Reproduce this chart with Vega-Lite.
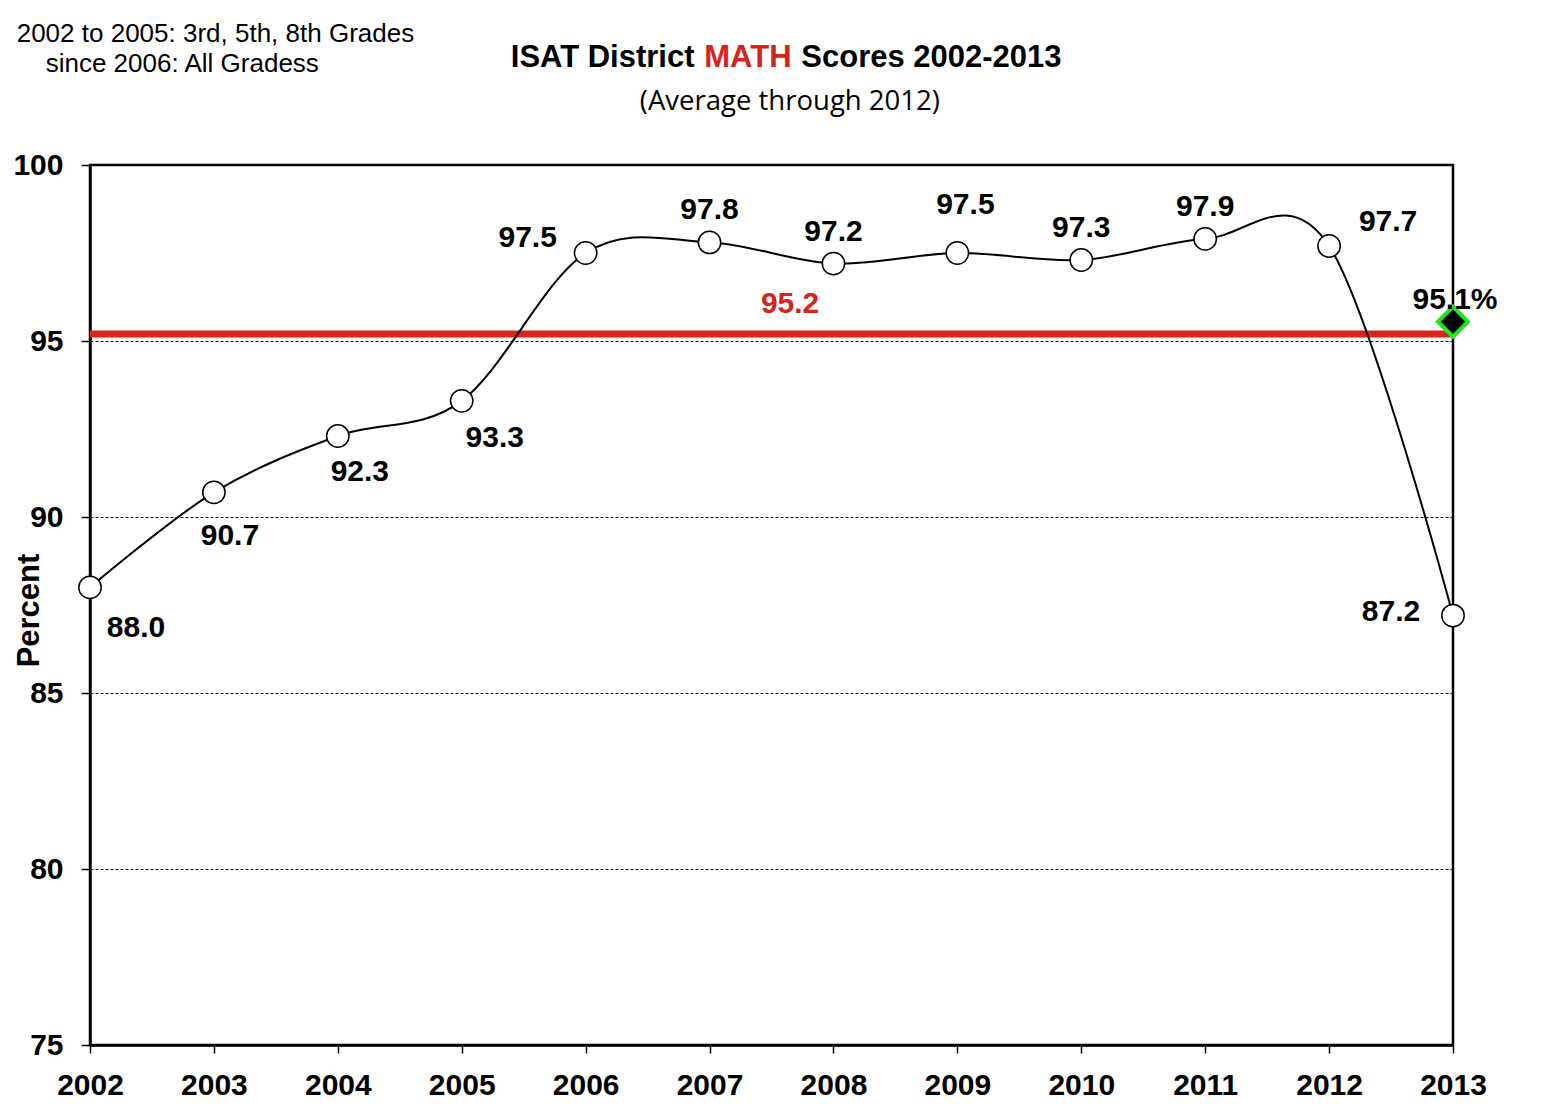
{
  "$schema": "https://vega.github.io/schema/vega-lite/v6.json",
  "width": 1363,
  "height": 880,
  "autosize": {"type": "none"},
  "padding": {"left": 90, "top": 165, "right": 95, "bottom": 70},
  "background": "white",
  "config": {
    "view": {"stroke": "black", "strokeWidth": 2.5},
    "text": {"font": "Liberation Sans"}
  },
  "datasets": {
    "scores": [
      {"year": 2002, "value": 88.0},
      {"year": 2003, "value": 90.7},
      {"year": 2004, "value": 92.3},
      {"year": 2005, "value": 93.3},
      {"year": 2006, "value": 97.5},
      {"year": 2007, "value": 97.8},
      {"year": 2008, "value": 97.2},
      {"year": 2009, "value": 97.5},
      {"year": 2010, "value": 97.3},
      {"year": 2011, "value": 97.9},
      {"year": 2012, "value": 97.7},
      {"year": 2013, "value": 87.2}
    ],
    "average": [{"value": 95.2}],
    "marker": [{"year": 2013, "value": 95.55, "label": "95.1%"}]
  },
  "layer": [
    {
      "data": {"name": "average"},
      "mark": {"type": "rule", "color": "#d8231a", "strokeWidth": 7},
      "encoding": {
        "y": {"field": "value", "type": "quantitative", "scale": {"domain": [75, 100], "nice": false, "zero": false},
          "axis": {"values": [75, 80, 85, 90, 95, 100], "title": "Percent", "grid": true, "gridColor": "black", "gridDash": [3, 2], "gridWidth": 1, "domainColor": "black", "domainWidth": 2.5, "tickColor": "black", "tickSize": 9, "tickWidth": 1.5, "labelFont": "Liberation Sans", "labelFontSize": 30, "labelFontWeight": "bold", "labelColor": "black", "labelPadding": 18, "titleFont": "Liberation Sans", "titleFontSize": 31, "titleFontWeight": "bold", "titleColor": "black", "titleX": -61, "titleY": 445, "titleAngle": 270, "titleAlign": "center", "titleBaseline": "middle"}}
      }
    },
    {
      "data": {"name": "average"},
      "mark": {"type": "text", "color": "#d8231a", "fontSize": 30, "fontWeight": "bold", "dy": -30},
      "encoding": {
        "x": {"datum": 2007.65, "type": "quantitative", "scale": {"domain": [2002, 2013], "nice": false, "zero": false},
          "axis": {"values": [2002, 2003, 2004, 2005, 2006, 2007, 2008, 2009, 2010, 2011, 2012, 2013], "format": "d", "title": null, "grid": false, "domainColor": "black", "domainWidth": 2.5, "tickColor": "black", "tickSize": 8, "tickWidth": 1.5, "labelFont": "Liberation Sans", "labelFontSize": 30, "labelFontWeight": "bold", "labelColor": "black", "labelPadding": 17, "labelFlush": false, "labelOverlap": false}},
        "y": {"field": "value", "type": "quantitative", "scale": {"domain": [75, 100], "nice": false, "zero": false},
          "axis": {"values": [75, 80, 85, 90, 95, 100], "title": "Percent", "grid": true, "gridColor": "black", "gridDash": [3, 2], "gridWidth": 1, "domainColor": "black", "domainWidth": 2.5, "tickColor": "black", "tickSize": 9, "tickWidth": 1.5, "labelFont": "Liberation Sans", "labelFontSize": 30, "labelFontWeight": "bold", "labelColor": "black", "labelPadding": 18, "titleFont": "Liberation Sans", "titleFontSize": 31, "titleFontWeight": "bold", "titleColor": "black", "titleX": -61, "titleY": 445, "titleAngle": 270, "titleAlign": "center", "titleBaseline": "middle"}},
        "text": {"field": "value", "type": "quantitative", "format": ".1f"}
      }
    },
    {
      "data": {"name": "scores"},
      "mark": {"type": "line", "color": "black", "strokeWidth": 2, "interpolate": "cardinal"},
      "encoding": {
        "x": {"field": "year", "type": "quantitative", "scale": {"domain": [2002, 2013], "nice": false, "zero": false},
          "axis": {"values": [2002, 2003, 2004, 2005, 2006, 2007, 2008, 2009, 2010, 2011, 2012, 2013], "format": "d", "title": null, "grid": false, "domainColor": "black", "domainWidth": 2.5, "tickColor": "black", "tickSize": 8, "tickWidth": 1.5, "labelFont": "Liberation Sans", "labelFontSize": 30, "labelFontWeight": "bold", "labelColor": "black", "labelPadding": 17, "labelFlush": false, "labelOverlap": false}},
        "y": {"field": "value", "type": "quantitative", "scale": {"domain": [75, 100], "nice": false, "zero": false},
          "axis": {"values": [75, 80, 85, 90, 95, 100], "title": "Percent", "grid": true, "gridColor": "black", "gridDash": [3, 2], "gridWidth": 1, "domainColor": "black", "domainWidth": 2.5, "tickColor": "black", "tickSize": 9, "tickWidth": 1.5, "labelFont": "Liberation Sans", "labelFontSize": 30, "labelFontWeight": "bold", "labelColor": "black", "labelPadding": 18, "titleFont": "Liberation Sans", "titleFontSize": 31, "titleFontWeight": "bold", "titleColor": "black", "titleX": -61, "titleY": 445, "titleAngle": 270, "titleAlign": "center", "titleBaseline": "middle"}}
      }
    },
    {
      "data": {"name": "scores"},
      "mark": {"type": "point", "shape": "circle", "filled": true, "fill": "white", "stroke": "black", "strokeWidth": 1.5, "size": 500, "opacity": 1},
      "encoding": {
        "x": {"field": "year", "type": "quantitative", "scale": {"domain": [2002, 2013], "nice": false, "zero": false},
          "axis": {"values": [2002, 2003, 2004, 2005, 2006, 2007, 2008, 2009, 2010, 2011, 2012, 2013], "format": "d", "title": null, "grid": false, "domainColor": "black", "domainWidth": 2.5, "tickColor": "black", "tickSize": 8, "tickWidth": 1.5, "labelFont": "Liberation Sans", "labelFontSize": 30, "labelFontWeight": "bold", "labelColor": "black", "labelPadding": 17, "labelFlush": false, "labelOverlap": false}},
        "y": {"field": "value", "type": "quantitative", "scale": {"domain": [75, 100], "nice": false, "zero": false},
          "axis": {"values": [75, 80, 85, 90, 95, 100], "title": "Percent", "grid": true, "gridColor": "black", "gridDash": [3, 2], "gridWidth": 1, "domainColor": "black", "domainWidth": 2.5, "tickColor": "black", "tickSize": 9, "tickWidth": 1.5, "labelFont": "Liberation Sans", "labelFontSize": 30, "labelFontWeight": "bold", "labelColor": "black", "labelPadding": 18, "titleFont": "Liberation Sans", "titleFontSize": 31, "titleFontWeight": "bold", "titleColor": "black", "titleX": -61, "titleY": 445, "titleAngle": 270, "titleAlign": "center", "titleBaseline": "middle"}}
      }
    },
    {
      "data": {"name": "scores"},
      "transform": [{"filter": {"field": "year", "oneOf": [2002]}}],
      "mark": {"type": "text", "fontSize": 30, "fontWeight": "bold", "color": "black", "dx": 46, "dy": 41},
      "encoding": {
        "x": {"field": "year", "type": "quantitative", "scale": {"domain": [2002, 2013], "nice": false, "zero": false},
          "axis": {"values": [2002, 2003, 2004, 2005, 2006, 2007, 2008, 2009, 2010, 2011, 2012, 2013], "format": "d", "title": null, "grid": false, "domainColor": "black", "domainWidth": 2.5, "tickColor": "black", "tickSize": 8, "tickWidth": 1.5, "labelFont": "Liberation Sans", "labelFontSize": 30, "labelFontWeight": "bold", "labelColor": "black", "labelPadding": 17, "labelFlush": false, "labelOverlap": false}},
        "y": {"field": "value", "type": "quantitative", "scale": {"domain": [75, 100], "nice": false, "zero": false},
          "axis": {"values": [75, 80, 85, 90, 95, 100], "title": "Percent", "grid": true, "gridColor": "black", "gridDash": [3, 2], "gridWidth": 1, "domainColor": "black", "domainWidth": 2.5, "tickColor": "black", "tickSize": 9, "tickWidth": 1.5, "labelFont": "Liberation Sans", "labelFontSize": 30, "labelFontWeight": "bold", "labelColor": "black", "labelPadding": 18, "titleFont": "Liberation Sans", "titleFontSize": 31, "titleFontWeight": "bold", "titleColor": "black", "titleX": -61, "titleY": 445, "titleAngle": 270, "titleAlign": "center", "titleBaseline": "middle"}},
        "text": {"field": "value", "type": "quantitative", "format": ".1f"}
      }
    },
    {
      "data": {"name": "scores"},
      "transform": [{"filter": {"field": "year", "oneOf": [2003]}}],
      "mark": {"type": "text", "fontSize": 30, "fontWeight": "bold", "color": "black", "dx": 16, "dy": 44},
      "encoding": {
        "x": {"field": "year", "type": "quantitative", "scale": {"domain": [2002, 2013], "nice": false, "zero": false},
          "axis": {"values": [2002, 2003, 2004, 2005, 2006, 2007, 2008, 2009, 2010, 2011, 2012, 2013], "format": "d", "title": null, "grid": false, "domainColor": "black", "domainWidth": 2.5, "tickColor": "black", "tickSize": 8, "tickWidth": 1.5, "labelFont": "Liberation Sans", "labelFontSize": 30, "labelFontWeight": "bold", "labelColor": "black", "labelPadding": 17, "labelFlush": false, "labelOverlap": false}},
        "y": {"field": "value", "type": "quantitative", "scale": {"domain": [75, 100], "nice": false, "zero": false},
          "axis": {"values": [75, 80, 85, 90, 95, 100], "title": "Percent", "grid": true, "gridColor": "black", "gridDash": [3, 2], "gridWidth": 1, "domainColor": "black", "domainWidth": 2.5, "tickColor": "black", "tickSize": 9, "tickWidth": 1.5, "labelFont": "Liberation Sans", "labelFontSize": 30, "labelFontWeight": "bold", "labelColor": "black", "labelPadding": 18, "titleFont": "Liberation Sans", "titleFontSize": 31, "titleFontWeight": "bold", "titleColor": "black", "titleX": -61, "titleY": 445, "titleAngle": 270, "titleAlign": "center", "titleBaseline": "middle"}},
        "text": {"field": "value", "type": "quantitative", "format": ".1f"}
      }
    },
    {
      "data": {"name": "scores"},
      "transform": [{"filter": {"field": "year", "oneOf": [2004]}}],
      "mark": {"type": "text", "fontSize": 30, "fontWeight": "bold", "color": "black", "dx": 22, "dy": 36},
      "encoding": {
        "x": {"field": "year", "type": "quantitative", "scale": {"domain": [2002, 2013], "nice": false, "zero": false},
          "axis": {"values": [2002, 2003, 2004, 2005, 2006, 2007, 2008, 2009, 2010, 2011, 2012, 2013], "format": "d", "title": null, "grid": false, "domainColor": "black", "domainWidth": 2.5, "tickColor": "black", "tickSize": 8, "tickWidth": 1.5, "labelFont": "Liberation Sans", "labelFontSize": 30, "labelFontWeight": "bold", "labelColor": "black", "labelPadding": 17, "labelFlush": false, "labelOverlap": false}},
        "y": {"field": "value", "type": "quantitative", "scale": {"domain": [75, 100], "nice": false, "zero": false},
          "axis": {"values": [75, 80, 85, 90, 95, 100], "title": "Percent", "grid": true, "gridColor": "black", "gridDash": [3, 2], "gridWidth": 1, "domainColor": "black", "domainWidth": 2.5, "tickColor": "black", "tickSize": 9, "tickWidth": 1.5, "labelFont": "Liberation Sans", "labelFontSize": 30, "labelFontWeight": "bold", "labelColor": "black", "labelPadding": 18, "titleFont": "Liberation Sans", "titleFontSize": 31, "titleFontWeight": "bold", "titleColor": "black", "titleX": -61, "titleY": 445, "titleAngle": 270, "titleAlign": "center", "titleBaseline": "middle"}},
        "text": {"field": "value", "type": "quantitative", "format": ".1f"}
      }
    },
    {
      "data": {"name": "scores"},
      "transform": [{"filter": {"field": "year", "oneOf": [2005]}}],
      "mark": {"type": "text", "fontSize": 30, "fontWeight": "bold", "color": "black", "dx": 33, "dy": 37},
      "encoding": {
        "x": {"field": "year", "type": "quantitative", "scale": {"domain": [2002, 2013], "nice": false, "zero": false},
          "axis": {"values": [2002, 2003, 2004, 2005, 2006, 2007, 2008, 2009, 2010, 2011, 2012, 2013], "format": "d", "title": null, "grid": false, "domainColor": "black", "domainWidth": 2.5, "tickColor": "black", "tickSize": 8, "tickWidth": 1.5, "labelFont": "Liberation Sans", "labelFontSize": 30, "labelFontWeight": "bold", "labelColor": "black", "labelPadding": 17, "labelFlush": false, "labelOverlap": false}},
        "y": {"field": "value", "type": "quantitative", "scale": {"domain": [75, 100], "nice": false, "zero": false},
          "axis": {"values": [75, 80, 85, 90, 95, 100], "title": "Percent", "grid": true, "gridColor": "black", "gridDash": [3, 2], "gridWidth": 1, "domainColor": "black", "domainWidth": 2.5, "tickColor": "black", "tickSize": 9, "tickWidth": 1.5, "labelFont": "Liberation Sans", "labelFontSize": 30, "labelFontWeight": "bold", "labelColor": "black", "labelPadding": 18, "titleFont": "Liberation Sans", "titleFontSize": 31, "titleFontWeight": "bold", "titleColor": "black", "titleX": -61, "titleY": 445, "titleAngle": 270, "titleAlign": "center", "titleBaseline": "middle"}},
        "text": {"field": "value", "type": "quantitative", "format": ".1f"}
      }
    },
    {
      "data": {"name": "scores"},
      "transform": [{"filter": {"field": "year", "oneOf": [2006]}}],
      "mark": {"type": "text", "fontSize": 30, "fontWeight": "bold", "color": "black", "dx": -58, "dy": -15},
      "encoding": {
        "x": {"field": "year", "type": "quantitative", "scale": {"domain": [2002, 2013], "nice": false, "zero": false},
          "axis": {"values": [2002, 2003, 2004, 2005, 2006, 2007, 2008, 2009, 2010, 2011, 2012, 2013], "format": "d", "title": null, "grid": false, "domainColor": "black", "domainWidth": 2.5, "tickColor": "black", "tickSize": 8, "tickWidth": 1.5, "labelFont": "Liberation Sans", "labelFontSize": 30, "labelFontWeight": "bold", "labelColor": "black", "labelPadding": 17, "labelFlush": false, "labelOverlap": false}},
        "y": {"field": "value", "type": "quantitative", "scale": {"domain": [75, 100], "nice": false, "zero": false},
          "axis": {"values": [75, 80, 85, 90, 95, 100], "title": "Percent", "grid": true, "gridColor": "black", "gridDash": [3, 2], "gridWidth": 1, "domainColor": "black", "domainWidth": 2.5, "tickColor": "black", "tickSize": 9, "tickWidth": 1.5, "labelFont": "Liberation Sans", "labelFontSize": 30, "labelFontWeight": "bold", "labelColor": "black", "labelPadding": 18, "titleFont": "Liberation Sans", "titleFontSize": 31, "titleFontWeight": "bold", "titleColor": "black", "titleX": -61, "titleY": 445, "titleAngle": 270, "titleAlign": "center", "titleBaseline": "middle"}},
        "text": {"field": "value", "type": "quantitative", "format": ".1f"}
      }
    },
    {
      "data": {"name": "scores"},
      "transform": [{"filter": {"field": "year", "oneOf": [2007, 2008, 2010, 2011]}}],
      "mark": {"type": "text", "fontSize": 30, "fontWeight": "bold", "color": "black", "dx": 0, "dy": -32},
      "encoding": {
        "x": {"field": "year", "type": "quantitative", "scale": {"domain": [2002, 2013], "nice": false, "zero": false},
          "axis": {"values": [2002, 2003, 2004, 2005, 2006, 2007, 2008, 2009, 2010, 2011, 2012, 2013], "format": "d", "title": null, "grid": false, "domainColor": "black", "domainWidth": 2.5, "tickColor": "black", "tickSize": 8, "tickWidth": 1.5, "labelFont": "Liberation Sans", "labelFontSize": 30, "labelFontWeight": "bold", "labelColor": "black", "labelPadding": 17, "labelFlush": false, "labelOverlap": false}},
        "y": {"field": "value", "type": "quantitative", "scale": {"domain": [75, 100], "nice": false, "zero": false},
          "axis": {"values": [75, 80, 85, 90, 95, 100], "title": "Percent", "grid": true, "gridColor": "black", "gridDash": [3, 2], "gridWidth": 1, "domainColor": "black", "domainWidth": 2.5, "tickColor": "black", "tickSize": 9, "tickWidth": 1.5, "labelFont": "Liberation Sans", "labelFontSize": 30, "labelFontWeight": "bold", "labelColor": "black", "labelPadding": 18, "titleFont": "Liberation Sans", "titleFontSize": 31, "titleFontWeight": "bold", "titleColor": "black", "titleX": -61, "titleY": 445, "titleAngle": 270, "titleAlign": "center", "titleBaseline": "middle"}},
        "text": {"field": "value", "type": "quantitative", "format": ".1f"}
      }
    },
    {
      "data": {"name": "scores"},
      "transform": [{"filter": {"field": "year", "oneOf": [2009]}}],
      "mark": {"type": "text", "fontSize": 30, "fontWeight": "bold", "color": "black", "dx": 8, "dy": -48},
      "encoding": {
        "x": {"field": "year", "type": "quantitative", "scale": {"domain": [2002, 2013], "nice": false, "zero": false},
          "axis": {"values": [2002, 2003, 2004, 2005, 2006, 2007, 2008, 2009, 2010, 2011, 2012, 2013], "format": "d", "title": null, "grid": false, "domainColor": "black", "domainWidth": 2.5, "tickColor": "black", "tickSize": 8, "tickWidth": 1.5, "labelFont": "Liberation Sans", "labelFontSize": 30, "labelFontWeight": "bold", "labelColor": "black", "labelPadding": 17, "labelFlush": false, "labelOverlap": false}},
        "y": {"field": "value", "type": "quantitative", "scale": {"domain": [75, 100], "nice": false, "zero": false},
          "axis": {"values": [75, 80, 85, 90, 95, 100], "title": "Percent", "grid": true, "gridColor": "black", "gridDash": [3, 2], "gridWidth": 1, "domainColor": "black", "domainWidth": 2.5, "tickColor": "black", "tickSize": 9, "tickWidth": 1.5, "labelFont": "Liberation Sans", "labelFontSize": 30, "labelFontWeight": "bold", "labelColor": "black", "labelPadding": 18, "titleFont": "Liberation Sans", "titleFontSize": 31, "titleFontWeight": "bold", "titleColor": "black", "titleX": -61, "titleY": 445, "titleAngle": 270, "titleAlign": "center", "titleBaseline": "middle"}},
        "text": {"field": "value", "type": "quantitative", "format": ".1f"}
      }
    },
    {
      "data": {"name": "scores"},
      "transform": [{"filter": {"field": "year", "oneOf": [2012]}}],
      "mark": {"type": "text", "fontSize": 30, "fontWeight": "bold", "color": "black", "dx": 59, "dy": -24},
      "encoding": {
        "x": {"field": "year", "type": "quantitative", "scale": {"domain": [2002, 2013], "nice": false, "zero": false},
          "axis": {"values": [2002, 2003, 2004, 2005, 2006, 2007, 2008, 2009, 2010, 2011, 2012, 2013], "format": "d", "title": null, "grid": false, "domainColor": "black", "domainWidth": 2.5, "tickColor": "black", "tickSize": 8, "tickWidth": 1.5, "labelFont": "Liberation Sans", "labelFontSize": 30, "labelFontWeight": "bold", "labelColor": "black", "labelPadding": 17, "labelFlush": false, "labelOverlap": false}},
        "y": {"field": "value", "type": "quantitative", "scale": {"domain": [75, 100], "nice": false, "zero": false},
          "axis": {"values": [75, 80, 85, 90, 95, 100], "title": "Percent", "grid": true, "gridColor": "black", "gridDash": [3, 2], "gridWidth": 1, "domainColor": "black", "domainWidth": 2.5, "tickColor": "black", "tickSize": 9, "tickWidth": 1.5, "labelFont": "Liberation Sans", "labelFontSize": 30, "labelFontWeight": "bold", "labelColor": "black", "labelPadding": 18, "titleFont": "Liberation Sans", "titleFontSize": 31, "titleFontWeight": "bold", "titleColor": "black", "titleX": -61, "titleY": 445, "titleAngle": 270, "titleAlign": "center", "titleBaseline": "middle"}},
        "text": {"field": "value", "type": "quantitative", "format": ".1f"}
      }
    },
    {
      "data": {"name": "scores"},
      "transform": [{"filter": {"field": "year", "oneOf": [2013]}}],
      "mark": {"type": "text", "fontSize": 30, "fontWeight": "bold", "color": "black", "dx": -62, "dy": -4},
      "encoding": {
        "x": {"field": "year", "type": "quantitative", "scale": {"domain": [2002, 2013], "nice": false, "zero": false},
          "axis": {"values": [2002, 2003, 2004, 2005, 2006, 2007, 2008, 2009, 2010, 2011, 2012, 2013], "format": "d", "title": null, "grid": false, "domainColor": "black", "domainWidth": 2.5, "tickColor": "black", "tickSize": 8, "tickWidth": 1.5, "labelFont": "Liberation Sans", "labelFontSize": 30, "labelFontWeight": "bold", "labelColor": "black", "labelPadding": 17, "labelFlush": false, "labelOverlap": false}},
        "y": {"field": "value", "type": "quantitative", "scale": {"domain": [75, 100], "nice": false, "zero": false},
          "axis": {"values": [75, 80, 85, 90, 95, 100], "title": "Percent", "grid": true, "gridColor": "black", "gridDash": [3, 2], "gridWidth": 1, "domainColor": "black", "domainWidth": 2.5, "tickColor": "black", "tickSize": 9, "tickWidth": 1.5, "labelFont": "Liberation Sans", "labelFontSize": 30, "labelFontWeight": "bold", "labelColor": "black", "labelPadding": 18, "titleFont": "Liberation Sans", "titleFontSize": 31, "titleFontWeight": "bold", "titleColor": "black", "titleX": -61, "titleY": 445, "titleAngle": 270, "titleAlign": "center", "titleBaseline": "middle"}},
        "text": {"field": "value", "type": "quantitative", "format": ".1f"}
      }
    },
    {
      "data": {"name": "marker"},
      "mark": {"type": "point", "shape": "diamond", "filled": true, "fill": "black", "stroke": "#1ee61e", "strokeWidth": 4, "size": 900, "opacity": 1},
      "encoding": {
        "x": {"field": "year", "type": "quantitative", "scale": {"domain": [2002, 2013], "nice": false, "zero": false},
          "axis": {"values": [2002, 2003, 2004, 2005, 2006, 2007, 2008, 2009, 2010, 2011, 2012, 2013], "format": "d", "title": null, "grid": false, "domainColor": "black", "domainWidth": 2.5, "tickColor": "black", "tickSize": 8, "tickWidth": 1.5, "labelFont": "Liberation Sans", "labelFontSize": 30, "labelFontWeight": "bold", "labelColor": "black", "labelPadding": 17, "labelFlush": false, "labelOverlap": false}},
        "y": {"field": "value", "type": "quantitative", "scale": {"domain": [75, 100], "nice": false, "zero": false},
          "axis": {"values": [75, 80, 85, 90, 95, 100], "title": "Percent", "grid": true, "gridColor": "black", "gridDash": [3, 2], "gridWidth": 1, "domainColor": "black", "domainWidth": 2.5, "tickColor": "black", "tickSize": 9, "tickWidth": 1.5, "labelFont": "Liberation Sans", "labelFontSize": 30, "labelFontWeight": "bold", "labelColor": "black", "labelPadding": 18, "titleFont": "Liberation Sans", "titleFontSize": 31, "titleFontWeight": "bold", "titleColor": "black", "titleX": -61, "titleY": 445, "titleAngle": 270, "titleAlign": "center", "titleBaseline": "middle"}}
      }
    },
    {
      "data": {"name": "marker"},
      "mark": {"type": "text", "fontSize": 30, "fontWeight": "bold", "color": "black", "dx": 2, "dy": -22},
      "encoding": {
        "x": {"field": "year", "type": "quantitative", "scale": {"domain": [2002, 2013], "nice": false, "zero": false},
          "axis": {"values": [2002, 2003, 2004, 2005, 2006, 2007, 2008, 2009, 2010, 2011, 2012, 2013], "format": "d", "title": null, "grid": false, "domainColor": "black", "domainWidth": 2.5, "tickColor": "black", "tickSize": 8, "tickWidth": 1.5, "labelFont": "Liberation Sans", "labelFontSize": 30, "labelFontWeight": "bold", "labelColor": "black", "labelPadding": 17, "labelFlush": false, "labelOverlap": false}},
        "y": {"field": "value", "type": "quantitative", "scale": {"domain": [75, 100], "nice": false, "zero": false},
          "axis": {"values": [75, 80, 85, 90, 95, 100], "title": "Percent", "grid": true, "gridColor": "black", "gridDash": [3, 2], "gridWidth": 1, "domainColor": "black", "domainWidth": 2.5, "tickColor": "black", "tickSize": 9, "tickWidth": 1.5, "labelFont": "Liberation Sans", "labelFontSize": 30, "labelFontWeight": "bold", "labelColor": "black", "labelPadding": 18, "titleFont": "Liberation Sans", "titleFontSize": 31, "titleFontWeight": "bold", "titleColor": "black", "titleX": -61, "titleY": 445, "titleAngle": 270, "titleAlign": "center", "titleBaseline": "middle"}},
        "text": {"field": "label", "type": "nominal"}
      }
    },
    {
      "data": {"values": [{"t": "2002 to 2005: 3rd, 5th, 8th Grades"}]},
      "mark": {"type": "text", "fontSize": 26, "color": "black", "align": "left", "baseline": "alphabetic"},
      "encoding": {
        "x": {"datum": 2001.4084, "type": "quantitative", "scale": {"domain": [2002, 2013], "nice": false, "zero": false},
          "axis": {"values": [2002, 2003, 2004, 2005, 2006, 2007, 2008, 2009, 2010, 2011, 2012, 2013], "format": "d", "title": null, "grid": false, "domainColor": "black", "domainWidth": 2.5, "tickColor": "black", "tickSize": 8, "tickWidth": 1.5, "labelFont": "Liberation Sans", "labelFontSize": 30, "labelFontWeight": "bold", "labelColor": "black", "labelPadding": 17, "labelFlush": false, "labelOverlap": false}},
        "y": {"datum": 103.503, "type": "quantitative", "scale": {"domain": [75, 100], "nice": false, "zero": false},
          "axis": {"values": [75, 80, 85, 90, 95, 100], "title": "Percent", "grid": true, "gridColor": "black", "gridDash": [3, 2], "gridWidth": 1, "domainColor": "black", "domainWidth": 2.5, "tickColor": "black", "tickSize": 9, "tickWidth": 1.5, "labelFont": "Liberation Sans", "labelFontSize": 30, "labelFontWeight": "bold", "labelColor": "black", "labelPadding": 18, "titleFont": "Liberation Sans", "titleFontSize": 31, "titleFontWeight": "bold", "titleColor": "black", "titleX": -61, "titleY": 445, "titleAngle": 270, "titleAlign": "center", "titleBaseline": "middle"}},
        "text": {"field": "t", "type": "nominal"}
      }
    },
    {
      "data": {"values": [{"t": "since 2006: All Gradess"}]},
      "mark": {"type": "text", "fontSize": 26, "color": "black", "align": "left", "baseline": "alphabetic"},
      "encoding": {
        "x": {"datum": 2001.6425, "type": "quantitative", "scale": {"domain": [2002, 2013], "nice": false, "zero": false},
          "axis": {"values": [2002, 2003, 2004, 2005, 2006, 2007, 2008, 2009, 2010, 2011, 2012, 2013], "format": "d", "title": null, "grid": false, "domainColor": "black", "domainWidth": 2.5, "tickColor": "black", "tickSize": 8, "tickWidth": 1.5, "labelFont": "Liberation Sans", "labelFontSize": 30, "labelFontWeight": "bold", "labelColor": "black", "labelPadding": 17, "labelFlush": false, "labelOverlap": false}},
        "y": {"datum": 102.651, "type": "quantitative", "scale": {"domain": [75, 100], "nice": false, "zero": false},
          "axis": {"values": [75, 80, 85, 90, 95, 100], "title": "Percent", "grid": true, "gridColor": "black", "gridDash": [3, 2], "gridWidth": 1, "domainColor": "black", "domainWidth": 2.5, "tickColor": "black", "tickSize": 9, "tickWidth": 1.5, "labelFont": "Liberation Sans", "labelFontSize": 30, "labelFontWeight": "bold", "labelColor": "black", "labelPadding": 18, "titleFont": "Liberation Sans", "titleFontSize": 31, "titleFontWeight": "bold", "titleColor": "black", "titleX": -61, "titleY": 445, "titleAngle": 270, "titleAlign": "center", "titleBaseline": "middle"}},
        "text": {"field": "t", "type": "nominal"}
      }
    },
    {
      "data": {"values": [{"t": "ISAT District"}]},
      "mark": {"type": "text", "fontSize": 31, "fontWeight": "bold", "color": "black", "align": "right", "baseline": "alphabetic"},
      "encoding": {
        "x": {"datum": 2006.8786, "type": "quantitative", "scale": {"domain": [2002, 2013], "nice": false, "zero": false},
          "axis": {"values": [2002, 2003, 2004, 2005, 2006, 2007, 2008, 2009, 2010, 2011, 2012, 2013], "format": "d", "title": null, "grid": false, "domainColor": "black", "domainWidth": 2.5, "tickColor": "black", "tickSize": 8, "tickWidth": 1.5, "labelFont": "Liberation Sans", "labelFontSize": 30, "labelFontWeight": "bold", "labelColor": "black", "labelPadding": 17, "labelFlush": false, "labelOverlap": false}},
        "y": {"datum": 102.793, "type": "quantitative", "scale": {"domain": [75, 100], "nice": false, "zero": false},
          "axis": {"values": [75, 80, 85, 90, 95, 100], "title": "Percent", "grid": true, "gridColor": "black", "gridDash": [3, 2], "gridWidth": 1, "domainColor": "black", "domainWidth": 2.5, "tickColor": "black", "tickSize": 9, "tickWidth": 1.5, "labelFont": "Liberation Sans", "labelFontSize": 30, "labelFontWeight": "bold", "labelColor": "black", "labelPadding": 18, "titleFont": "Liberation Sans", "titleFontSize": 31, "titleFontWeight": "bold", "titleColor": "black", "titleX": -61, "titleY": 445, "titleAngle": 270, "titleAlign": "center", "titleBaseline": "middle"}},
        "text": {"field": "t", "type": "nominal"}
      }
    },
    {
      "data": {"values": [{"t": "MATH"}]},
      "mark": {"type": "text", "fontSize": 31, "fontWeight": "bold", "color": "#d8231a", "align": "center", "baseline": "alphabetic"},
      "encoding": {
        "x": {"datum": 2007.3095, "type": "quantitative", "scale": {"domain": [2002, 2013], "nice": false, "zero": false},
          "axis": {"values": [2002, 2003, 2004, 2005, 2006, 2007, 2008, 2009, 2010, 2011, 2012, 2013], "format": "d", "title": null, "grid": false, "domainColor": "black", "domainWidth": 2.5, "tickColor": "black", "tickSize": 8, "tickWidth": 1.5, "labelFont": "Liberation Sans", "labelFontSize": 30, "labelFontWeight": "bold", "labelColor": "black", "labelPadding": 17, "labelFlush": false, "labelOverlap": false}},
        "y": {"datum": 102.793, "type": "quantitative", "scale": {"domain": [75, 100], "nice": false, "zero": false},
          "axis": {"values": [75, 80, 85, 90, 95, 100], "title": "Percent", "grid": true, "gridColor": "black", "gridDash": [3, 2], "gridWidth": 1, "domainColor": "black", "domainWidth": 2.5, "tickColor": "black", "tickSize": 9, "tickWidth": 1.5, "labelFont": "Liberation Sans", "labelFontSize": 30, "labelFontWeight": "bold", "labelColor": "black", "labelPadding": 18, "titleFont": "Liberation Sans", "titleFontSize": 31, "titleFontWeight": "bold", "titleColor": "black", "titleX": -61, "titleY": 445, "titleAngle": 270, "titleAlign": "center", "titleBaseline": "middle"}},
        "text": {"field": "t", "type": "nominal"}
      }
    },
    {
      "data": {"values": [{"t": "Scores 2002-2013"}]},
      "mark": {"type": "text", "fontSize": 31, "fontWeight": "bold", "color": "black", "align": "left", "baseline": "alphabetic"},
      "encoding": {
        "x": {"datum": 2007.7405, "type": "quantitative", "scale": {"domain": [2002, 2013], "nice": false, "zero": false},
          "axis": {"values": [2002, 2003, 2004, 2005, 2006, 2007, 2008, 2009, 2010, 2011, 2012, 2013], "format": "d", "title": null, "grid": false, "domainColor": "black", "domainWidth": 2.5, "tickColor": "black", "tickSize": 8, "tickWidth": 1.5, "labelFont": "Liberation Sans", "labelFontSize": 30, "labelFontWeight": "bold", "labelColor": "black", "labelPadding": 17, "labelFlush": false, "labelOverlap": false}},
        "y": {"datum": 102.793, "type": "quantitative", "scale": {"domain": [75, 100], "nice": false, "zero": false},
          "axis": {"values": [75, 80, 85, 90, 95, 100], "title": "Percent", "grid": true, "gridColor": "black", "gridDash": [3, 2], "gridWidth": 1, "domainColor": "black", "domainWidth": 2.5, "tickColor": "black", "tickSize": 9, "tickWidth": 1.5, "labelFont": "Liberation Sans", "labelFontSize": 30, "labelFontWeight": "bold", "labelColor": "black", "labelPadding": 18, "titleFont": "Liberation Sans", "titleFontSize": 31, "titleFontWeight": "bold", "titleColor": "black", "titleX": -61, "titleY": 445, "titleAngle": 270, "titleAlign": "center", "titleBaseline": "middle"}},
        "text": {"field": "t", "type": "nominal"}
      }
    },
    {
      "data": {"values": [{"t": "(Average through 2012)"}]},
      "mark": {"type": "text", "font": "Open Sans", "fontSize": 27.5, "color": "black", "align": "center", "baseline": "alphabetic"},
      "encoding": {
        "x": {"datum": 2007.648, "type": "quantitative", "scale": {"domain": [2002, 2013], "nice": false, "zero": false},
          "axis": {"values": [2002, 2003, 2004, 2005, 2006, 2007, 2008, 2009, 2010, 2011, 2012, 2013], "format": "d", "title": null, "grid": false, "domainColor": "black", "domainWidth": 2.5, "tickColor": "black", "tickSize": 8, "tickWidth": 1.5, "labelFont": "Liberation Sans", "labelFontSize": 30, "labelFontWeight": "bold", "labelColor": "black", "labelPadding": 17, "labelFlush": false, "labelOverlap": false}},
        "y": {"datum": 101.5625, "type": "quantitative", "scale": {"domain": [75, 100], "nice": false, "zero": false},
          "axis": {"values": [75, 80, 85, 90, 95, 100], "title": "Percent", "grid": true, "gridColor": "black", "gridDash": [3, 2], "gridWidth": 1, "domainColor": "black", "domainWidth": 2.5, "tickColor": "black", "tickSize": 9, "tickWidth": 1.5, "labelFont": "Liberation Sans", "labelFontSize": 30, "labelFontWeight": "bold", "labelColor": "black", "labelPadding": 18, "titleFont": "Liberation Sans", "titleFontSize": 31, "titleFontWeight": "bold", "titleColor": "black", "titleX": -61, "titleY": 445, "titleAngle": 270, "titleAlign": "center", "titleBaseline": "middle"}},
        "text": {"field": "t", "type": "nominal"}
      }
    }
  ]
}
